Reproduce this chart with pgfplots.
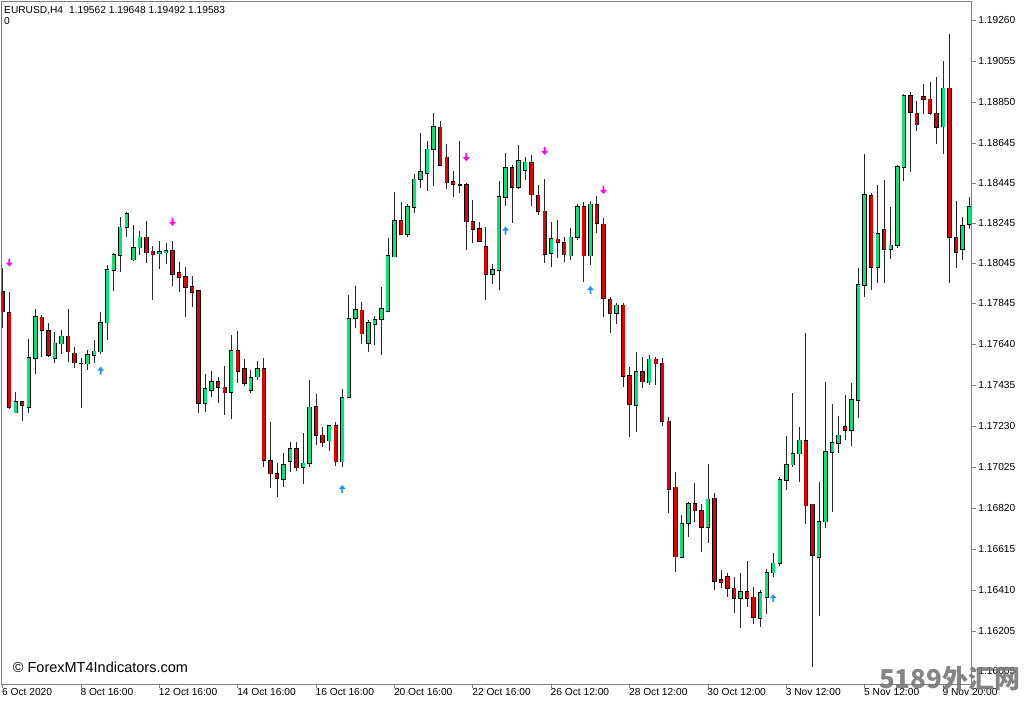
\documentclass[border=0pt]{standalone}
\usepackage{fontspec}
\setmainfont{Liberation Sans}
\newfontfamily\cjk{Noto Sans CJK SC}
\usepackage{pgfplots}
\pgfplotsset{compat=1.18}
\usepackage{pgfplotstable}

\definecolor{bull}{RGB}{0,230,125}
\definecolor{bear}{RGB}{228,0,0}
\definecolor{frame}{RGB}{128,128,128}
\definecolor{wick}{RGB}{40,40,40}
\definecolor{sell}{RGB}{255,0,255}
\definecolor{buy}{RGB}{30,144,255}
\definecolor{wmark}{RGB}{120,120,120}

% arrow marks of the signal indicator
\pgfdeclareplotmark{dnarrow}{%
  \pgfpathmoveto{\pgfpoint{-0.9pt}{4pt}}%
  \pgfpathlineto{\pgfpoint{0.9pt}{4pt}}%
  \pgfpathlineto{\pgfpoint{0.9pt}{0pt}}%
  \pgfpathlineto{\pgfpoint{3.3pt}{0pt}}%
  \pgfpathlineto{\pgfpoint{0pt}{-4pt}}%
  \pgfpathlineto{\pgfpoint{-3.3pt}{0pt}}%
  \pgfpathlineto{\pgfpoint{-0.9pt}{0pt}}%
  \pgfpathclose
  \pgfusepathqfill}
\pgfdeclareplotmark{uparrow}{%
  \pgfpathmoveto{\pgfpoint{-0.9pt}{-4pt}}%
  \pgfpathlineto{\pgfpoint{0.9pt}{-4pt}}%
  \pgfpathlineto{\pgfpoint{0.9pt}{0pt}}%
  \pgfpathlineto{\pgfpoint{3.3pt}{0pt}}%
  \pgfpathlineto{\pgfpoint{0pt}{4pt}}%
  \pgfpathlineto{\pgfpoint{-3.3pt}{0pt}}%
  \pgfpathlineto{\pgfpoint{-0.9pt}{0pt}}%
  \pgfpathclose
  \pgfusepathqfill}

% EURUSD H4: bar, open, high, low, close
\pgfplotstableread{
i o h l c
0 1.17902 1.18018 1.17722 1.17802
1 1.17798 1.17898 1.17314 1.17324
2 1.17298 1.17398 1.17294 1.17350
3 1.17350 1.17350 1.17255 1.17335
4 1.17326 1.17665 1.17294 1.17570
5 1.17570 1.17815 1.17488 1.17776
6 1.17775 1.17785 1.17574 1.17710
7 1.17706 1.17744 1.17576 1.17584
8 1.17570 1.17698 1.17544 1.17644
9 1.17644 1.17708 1.17588 1.17680
10 1.17680 1.17815 1.17552 1.17602
11 1.17595 1.17626 1.17518 1.17548
12 1.17544 1.17568 1.17318 1.17544
13 1.17542 1.17610 1.17510 1.17586
14 1.17585 1.17660 1.17544 1.17604
15 1.17602 1.17802 1.17590 1.17745
16 1.17748 1.18035 1.17660 1.18012
17 1.18010 1.18094 1.17906 1.18085
18 1.18085 1.18274 1.18002 1.18224
19 1.18224 1.18302 1.18176 1.18290
20 1.18062 1.18235 1.18056 1.18122
21 1.18122 1.18206 1.18085 1.18174
22 1.18174 1.18256 1.18046 1.18098
23 1.18105 1.18130 1.17860 1.18088
24 1.18092 1.18156 1.18014 1.18102
25 1.18098 1.18144 1.18038 1.18106
26 1.18106 1.18156 1.17932 1.17990
27 1.17994 1.18050 1.17898 1.17974
28 1.17974 1.18024 1.17774 1.17924
29 1.17925 1.17980 1.17824 1.17900
30 1.17906 1.17906 1.17296 1.17344
31 1.17344 1.17490 1.17302 1.17418
32 1.17410 1.17506 1.17374 1.17452
33 1.17452 1.17476 1.17344 1.17424
34 1.17424 1.17530 1.17285 1.17398
35 1.17398 1.17685 1.17264 1.17606
36 1.17606 1.17706 1.17446 1.17506
37 1.17514 1.17566 1.17430 1.17444
38 1.17410 1.17510 1.17396 1.17472
39 1.17476 1.17555 1.17460 1.17516
40 1.17516 1.17572 1.17026 1.17060
41 1.17058 1.17248 1.16918 1.16992
42 1.16992 1.17046 1.16876 1.16970
43 1.16966 1.17095 1.16924 1.17035
44 1.17055 1.17148 1.17002 1.17118
45 1.17116 1.17148 1.17006 1.17022
46 1.17024 1.17194 1.16938 1.17044
47 1.17044 1.17460 1.17024 1.17324
48 1.17325 1.17388 1.17135 1.17185
49 1.17184 1.17226 1.17126 1.17146
50 1.17156 1.17232 1.17106 1.17232
51 1.17232 1.17248 1.17032 1.17052
52 1.17052 1.17415 1.17024 1.17372
53 1.17374 1.17885 1.17374 1.17765
54 1.17768 1.17930 1.17718 1.17810
55 1.17810 1.17848 1.17638 1.17694
56 1.17644 1.17760 1.17600 1.17746
57 1.17740 1.17780 1.17635 1.17764
58 1.17764 1.17926 1.17585 1.17815
59 1.17806 1.18172 1.17798 1.18082
60 1.18076 1.18400 1.18074 1.18256
61 1.18256 1.18352 1.18186 1.18190
62 1.18190 1.18340 1.18174 1.18326
63 1.18326 1.18490 1.18294 1.18465
64 1.18464 1.18694 1.18418 1.18500
65 1.18494 1.18654 1.18406 1.18615
66 1.18615 1.18796 1.18432 1.18726
67 1.18724 1.18756 1.18530 1.18534
68 1.18575 1.18642 1.18414 1.18448
69 1.18450 1.18504 1.18374 1.18440
70 1.18438 1.18656 1.18394 1.18438
71 1.18435 1.18446 1.18110 1.18252
72 1.18252 1.18360 1.18146 1.18215
73 1.18215 1.18252 1.18152 1.18154
74 1.18126 1.18226 1.17860 1.17990
75 1.17990 1.18038 1.17940 1.18010
76 1.18010 1.18456 1.17910 1.18376
77 1.18376 1.18594 1.18330 1.18522
78 1.18522 1.18535 1.18244 1.18424
79 1.18424 1.18635 1.18414 1.18556
80 1.18510 1.18576 1.18460 1.18548
81 1.18546 1.18585 1.18330 1.18388
82 1.18385 1.18435 1.18285 1.18306
83 1.18305 1.18464 1.18046 1.18090
84 1.18094 1.18252 1.18024 1.18164
85 1.18164 1.18260 1.18068 1.18150
86 1.18148 1.18174 1.18050 1.18088
87 1.18082 1.18218 1.18060 1.18174
88 1.18174 1.18340 1.18160 1.18326
89 1.18326 1.18352 1.17952 1.18082
90 1.18082 1.18356 1.18034 1.18338
91 1.18338 1.18380 1.18196 1.18244
92 1.18238 1.18268 1.17776 1.17868
93 1.17864 1.17876 1.17694 1.17794
94 1.17794 1.17844 1.17738 1.17835
95 1.17834 1.17844 1.17426 1.17480
96 1.17480 1.17524 1.17174 1.17338
97 1.17334 1.17602 1.17202 1.17502
98 1.17502 1.17576 1.17418 1.17452
99 1.17448 1.17585 1.17435 1.17564
100 1.17564 1.17576 1.17435 1.17542
101 1.17544 1.17568 1.17230 1.17254
102 1.17254 1.17276 1.16794 1.16916
103 1.16924 1.17000 1.16502 1.16576
104 1.16576 1.16784 1.16572 1.16742
105 1.16744 1.16850 1.16676 1.16840
106 1.16840 1.16944 1.16748 1.16806
107 1.16805 1.16840 1.16602 1.16726
108 1.16726 1.17040 1.16644 1.16864
109 1.16868 1.16896 1.16410 1.16455
110 1.16460 1.16510 1.16418 1.16448
111 1.16475 1.16496 1.16376 1.16418
112 1.16418 1.16474 1.16296 1.16368
113 1.16368 1.16494 1.16222 1.16402
114 1.16402 1.16555 1.16326 1.16368
115 1.16374 1.16426 1.16238 1.16276
116 1.16272 1.16410 1.16226 1.16396
117 1.16374 1.16514 1.16290 1.16498
118 1.16498 1.16594 1.16474 1.16544
119 1.16544 1.16976 1.16532 1.16960
120 1.16960 1.17180 1.16910 1.17038
121 1.17038 1.17396 1.17024 1.17092
122 1.17092 1.17224 1.16952 1.17158
123 1.17158 1.17696 1.16740 1.16832
124 1.16840 1.16840 1.16026 1.16585
125 1.16576 1.16952 1.16282 1.16752
126 1.16752 1.17452 1.16718 1.17100
127 1.17100 1.17340 1.16802 1.17145
128 1.17144 1.17282 1.17094 1.17185
129 1.17226 1.17385 1.17160 1.17210
130 1.17210 1.17444 1.17130 1.17360
131 1.17360 1.18018 1.17268 1.17938
132 1.17935 1.18588 1.17876 1.18384
133 1.18380 1.18394 1.17910 1.18026
134 1.18026 1.18435 1.17944 1.18192
135 1.18212 1.18462 1.17944 1.18115
136 1.18115 1.18326 1.18066 1.18134
137 1.18134 1.18535 1.18118 1.18524
138 1.18524 1.18890 1.18456 1.18882
139 1.18882 1.18902 1.18500 1.18798
140 1.18794 1.18855 1.18706 1.18738
141 1.18878 1.18940 1.18788 1.18866
142 1.18864 1.18948 1.18785 1.18794
143 1.18795 1.18974 1.18638 1.18726
144 1.18726 1.19056 1.18590 1.18918
145 1.18918 1.19190 1.17944 1.18174
146 1.18170 1.18356 1.18022 1.18098
147 1.18115 1.18274 1.18060 1.18232
148 1.18238 1.18376 1.18215 1.18326
}\ohlc

\begin{document}
\begin{tikzpicture}
\useasboundingbox (-1.7pt,-19.7pt) rectangle (1022.3pt,684.3pt);
\begin{axis}[
  at={(0pt,0pt)}, anchor=south west,
  scale only axis, width=970pt, height=682.8pt,
  xmin=-0.153, xmax=148.39,
  ymin=1.159385, ymax=1.193525,
  axis line style={draw=frame, line width=1pt},
  tick style={draw=frame, line width=0.9pt},
  tick align=outside, major tick length=4pt,
  xtick pos=left, ytick pos=right, yticklabel pos=right,
  xtick={0,12,...,144},
  xticklabels={6 Oct 2020, 8 Oct 16:00, 12 Oct 16:00, 14 Oct 16:00, 16 Oct 16:00, 20 Oct 16:00, 22 Oct 16:00, 26 Oct 12:00, 28 Oct 12:00, 30 Oct 12:00, 3 Nov 12:00, 5 Nov 12:00, 9 Nov 20:00},
  ytick={1.19260,1.19055,1.18850,1.18645,1.18445,1.18245,1.18045,1.17845,1.17640,1.17435,1.17230,1.17025,1.16820,1.16615,1.16410,1.16205,1.16005},
  yticklabels={1.19260,1.19055,1.18850,1.18645,1.18445,1.18245,1.18045,1.17845,1.17640,1.17435,1.17230,1.17025,1.16820,1.16615,1.16410,1.16205,1.16005},
  ticklabel style={font=\fontsize{10.2}{12}\selectfont, text=black},
  xticklabel style={anchor=north west, inner sep=0pt, xshift=-0.7pt},
  yticklabel style={anchor=west, inner sep=0pt, xshift=2.5pt},
]
% wicks
\addplot[draw=none, mark=none, error bars/.cd, y dir=plus, y explicit, error mark=none,
  error bar style={draw=wick, line width=0.9pt}]
  table[x=i, y=l, y error expr=\thisrow{h}-\thisrow{l}] {\ohlc};
% body outlines
\addplot[draw=none, mark=none, error bars/.cd, y dir=both, y explicit, error mark=none,
  error bar style={draw=black, line width=4.4pt}]
  table[x=i, y expr=(\thisrow{o}+\thisrow{c})/2, y error expr=abs(\thisrow{c}-\thisrow{o})/2+0.000035] {\ohlc};
% bull bodies
\addplot[draw=none, mark=none, restrict expr to domain={\thisrow{c}-\thisrow{o}}{0:1},
  error bars/.cd, y dir=both, y explicit, error mark=none,
  error bar style={draw=bull, line width=3pt}]
  table[x=i, y expr=(\thisrow{o}+\thisrow{c})/2, y error expr=abs(\thisrow{c}-\thisrow{o})/2] {\ohlc};
% bear bodies
\addplot[draw=none, mark=none, restrict expr to domain={\thisrow{c}-\thisrow{o}}{-1:0},
  error bars/.cd, y dir=both, y explicit, error mark=none,
  error bar style={draw=bear, line width=3pt}]
  table[x=i, y expr=(\thisrow{o}+\thisrow{c})/2, y error expr=abs(\thisrow{c}-\thisrow{o})/2] {\ohlc};
% signal arrows
\addplot[only marks, mark=dnarrow, color=sell]
  coordinates {(1,1.18047) (26,1.18250) (71,1.18574) (83,1.18605) (92,1.18410)};
\addplot[only marks, mark=uparrow, color=buy]
  coordinates {(15,1.17507) (52,1.16915) (77,1.18207) (90,1.17910) (118,1.16369)};
\end{axis}
\node[anchor=base west, inner sep=0pt, font=\fontsize{10.2}{12}\selectfont] at (2.3pt,670.3pt)
  {EURUSD,H4\hspace{6pt}1.19562 1.19648 1.19492 1.19583};
\node[anchor=base west, inner sep=0pt, font=\fontsize{10.2}{12}\selectfont] at (2.3pt,659.3pt) {0};
\node[anchor=base west, inner sep=0pt, font=\fontsize{14.5}{16}\selectfont] at (11pt,12.3pt)
  {© ForexMT4Indicators.com};
\node[inner sep=0pt, text=wmark, opacity=0.9, font=\cjk\bfseries\fontsize{26}{28}\selectfont]
  at (948pt,6pt) {5189外汇网};
\end{tikzpicture}
\end{document}
